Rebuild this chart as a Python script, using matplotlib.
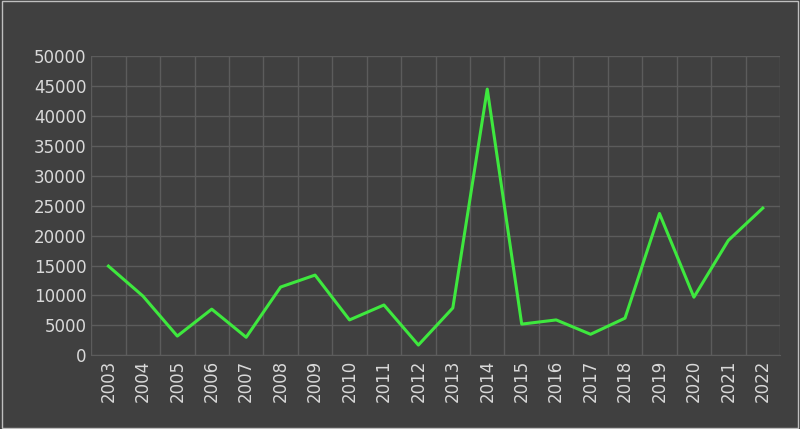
import matplotlib
matplotlib.use("Agg")
import matplotlib.pyplot as plt

years = [str(y) for y in range(2003, 2023)]
values = [14900, 9900, 3200, 7700, 3000, 11400, 13400, 5900, 8400, 1700,
          7900, 44500, 5200, 5900, 3500, 6200, 23700, 9700, 19200, 24600]

bg = "#404040"
txt = "#d9d9d9"

fig = plt.figure(figsize=(8, 4.29), dpi=100, facecolor=bg)
ax = fig.add_axes([0.114, 0.172, 0.861, 0.697], facecolor=bg)

x = list(range(len(years)))
ax.plot(x, values, color="#3ee83e", linewidth=2.2)

ax.set_xlim(-0.5, len(years) - 0.5)
ax.set_ylim(0, 50000)
ax.set_yticks(range(0, 50001, 5000))
ax.set_xticks(x)
ax.set_xticklabels(years, rotation=90)
ax.set_xticks([i - 0.5 for i in range(len(years) + 1)], minor=True)

ax.grid(axis="y", which="major", color="#5c5c5c", linewidth=1)
ax.grid(axis="x", which="minor", color="#5c5c5c", linewidth=1)
ax.tick_params(axis="both", which="both", length=0, colors=txt, labelsize=12)
for s in ax.spines.values():
    s.set_visible(False)
ax.spines["bottom"].set_visible(True)
ax.spines["bottom"].set_color("#5c5c5c")

# light outer border
fig.patches.append(plt.Rectangle((0.002, 0.003), 0.996, 0.994, transform=fig.transFigure,
                                 fill=False, edgecolor="#bfbfbf", linewidth=1))

fig.savefig("out.png", dpi=100, facecolor=bg)
